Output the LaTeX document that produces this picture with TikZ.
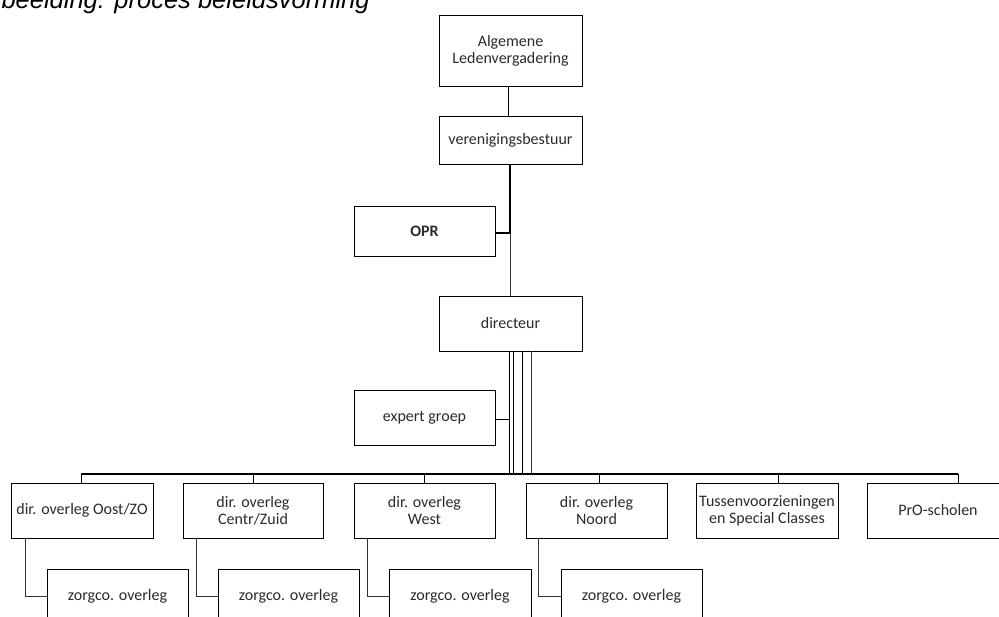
\documentclass[tikz,border=0pt]{standalone}
\usepackage{fontspec}
\newfontfamily\carl{Carlito}
\newfontfamily\titlefont{Liberation Sans}
\usetikzlibrary{calc}
\definecolor{txt}{HTML}{2B2B2B}
\tikzset{
  box/.style={draw=black, line width=0.9pt, fill=white, inner sep=0pt, align=center,
    font=\carl\fontsize{16}{17}\selectfont, text=txt, minimum height=55pt},
  link/.style={draw=black, line width=1pt},
  thinlink/.style={draw=black!80, line width=0.6pt},
  buslink/.style={draw=black, line width=1.6pt},
}
\begin{document}
\begin{tikzpicture}[x=1pt, y=-1pt]
\useasboundingbox (0,0) rectangle (999,617);
\clip (0,0) rectangle (999,617);
\fill[white] (0,0) rectangle (999,617);

\node[anchor=base west, font=\titlefont\itshape\fontsize{25.5}{28}\selectfont, text=black] (title) at (-2,9) {beelding: proces beleidsvorming};

% top column
\node[box, minimum width=143pt, minimum height=71pt] (alv) at (510.5,50.5) {Algemene\\Ledenvergadering};
\node[box, minimum width=143pt, minimum height=48pt] (vb) at (510.5,140) {verenigingsbestuur};
\node[box, minimum width=141pt, minimum height=50pt, font=\carl\bfseries\fontsize{16}{17}\selectfont] (opr) at (424.5,231) {OPR};
\node[box, minimum width=143pt] (dir) at (510.5,323.5) {directeur};
\node[box, minimum width=141pt] (exp) at (424.5,417.5) {expert groep};

% bottom row
\node[box, minimum width=142pt] (b1) at (82,510.5) {dir. overleg Oost/ZO};
\node[box, minimum width=140pt] (b2) at (253,510.5) {dir. overleg\\Centr/Zuid};
\node[box, minimum width=141pt] (b3) at (424.5,510.5) {dir. overleg\\West};
\node[box, minimum width=141pt] (b4) at (596.5,510.5) {dir. overleg\\Noord};
\node[box, minimum width=142pt] (b5) at (767,510.5) {Tussenvoorzieningen\\en Special Classes};
\node[box, minimum width=142pt] (b6) at (938,510.5) {PrO-scholen};

\node[box, minimum width=141pt] (z1) at (117.5,596.5) {zorgco. overleg};
\node[box, minimum width=141pt] (z2) at (288.5,596.5) {zorgco. overleg};
\node[box, minimum width=142pt] (z3) at (460,596.5) {zorgco. overleg};
\node[box, minimum width=141pt] (z4) at (631.5,596.5) {zorgco. overleg};

% connectors top
\coordinate (j1) at (510,233);
\draw[link] (alv.south -| 508,0) -- (vb.north -| 508,0);
\draw[buslink, line width=1.3pt] (vb.south -| j1) -- (j1) -- (opr.east |- j1);
\draw[thinlink] (j1) -- (dir.north -| j1);

% directeur to expert groep and bus
\coordinate (bl) at (81,474);
\coordinate (br) at (958,474);
\draw[link] (dir.south -| 509,0) -- (509,420) -- (exp.east |- 509,420);
\draw[link] (509,420) -- (bl -| 509,0);
\draw[link] (dir.south -| 513,0) -- (bl -| 513,0);
\draw[link] (dir.south -| 522,0) -- (bl -| 522,0);
\draw[thinlink, line width=0.9pt] (dir.south -| 531,0) -- (bl -| 531,0);
\draw[buslink] (bl) -- (br);

% drops
\draw[link] (bl) -- (b1.north -| bl);
\draw[link] (253,474) -- (b2.north -| 253,0);
\draw[link] (424,474) -- (b3.north -| 424,0);
\draw[link] (599,474) -- (b4.north -| 599,0);
\draw[link] (778,474) -- (b5.north -| 778,0);
\draw[link] (br) -- (b6.north -| br);

% zorgco connectors
\draw[thinlink] ($(b1.south west)+(15,0)$) |- (z1.west);
\draw[thinlink] ($(b2.south west)+(14,0)$) |- (z2.west);
\draw[thinlink] ($(b3.south west)+(14,0)$) |- (z3.west);
\draw[thinlink] ($(b4.south west)+(13,0)$) |- (z4.west);
\end{tikzpicture}
\end{document}
